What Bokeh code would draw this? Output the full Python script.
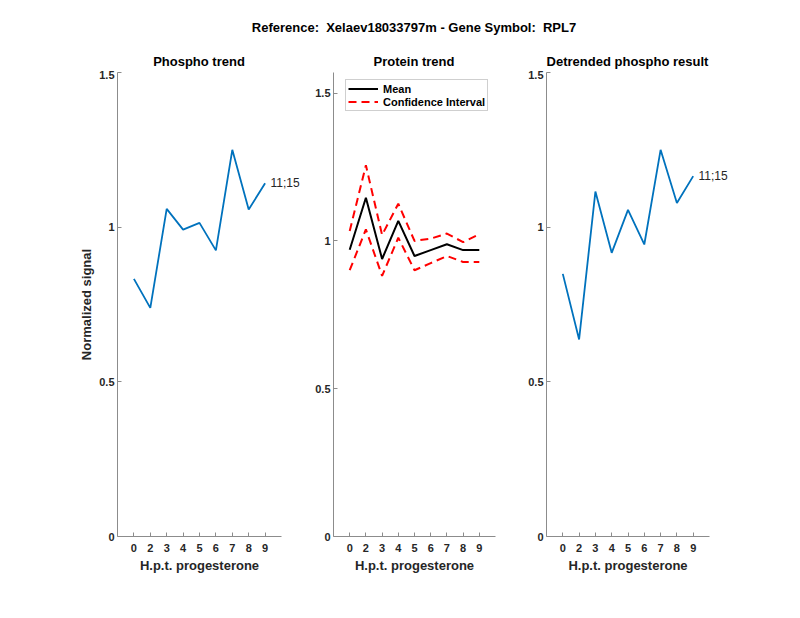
from bokeh.plotting import figure
from bokeh.models import Range1d, FixedTicker, Legend, LegendItem, LinearAxis, Div
from bokeh.layouts import row, column
from bokeh.embed import file_html
from bokeh.resources import INLINE

# ---- data ----
hours = ["0", "2", "3", "4", "5", "6", "7", "8", "9"]
phospho = [0.833, 0.739, 1.059, 0.992, 1.014, 0.925, 1.250, 1.057, 1.142]
protein_mean = [0.970, 1.146, 0.939, 1.068, 0.949, 0.969, 0.989, 0.969, 0.969]
protein_upper = [1.034, 1.256, 1.020, 1.126, 1.000, 1.008, 1.025, 0.996, 1.023]
protein_lower = [0.901, 1.039, 0.882, 1.011, 0.901, 0.925, 0.949, 0.929, 0.929]
detrended = [0.849, 0.637, 1.115, 0.917, 1.056, 0.944, 1.250, 1.078, 1.165]
peptide_label = "11;15"
suptitle = "Reference:  Xelaev18033797m - Gene Symbol:  RPL7"
titles = ["Phospho trend", "Protein trend", "Detrended phospho result"]
xlabel = "H.p.t. progesterone"
ylabel = "Normalized signal"
yticks = [0.0, 0.5, 1.0, 1.5]
ytick_labels = ["0", "0.5", "1", "1.5"]

xpos = list(range(1, len(hours) + 1))
FONT = "Liberation Sans"
AX = "#8c8c8c"
TXT = "#262626"

HEAD = 70          # height of the heading strip (titles)
TOP = 2            # border above each frame
FRAME_H = 464
BOTTOM = 76

# (figure width, left border, right border)
specs = [(305, 117, 24), (217, 28, 27), (273, 24, 86)]


def make_fig(width, left, right, ymax):
    p = figure(width=width, height=TOP + FRAME_H + BOTTOM,
               x_range=Range1d(0, len(hours) + 1), y_range=Range1d(0, ymax),
               output_backend="svg", toolbar_location=None,
               min_border_left=left, min_border_right=right,
               min_border_top=TOP, min_border_bottom=BOTTOM)
    p.grid.visible = False
    p.outline_line_color = None
    p.background_fill_color = "white"
    p.border_fill_color = "white"
    for ax in (p.xaxis[0], p.yaxis[0]):
        ax.axis_line_color = AX
        ax.major_tick_line_color = AX
        ax.major_tick_in = 4
        ax.major_tick_out = 0
        ax.minor_tick_line_color = None
        ax.major_label_text_font = FONT
        ax.major_label_text_font_size = "11px"
        ax.major_label_text_font_style = "bold"
        ax.major_label_text_color = TXT
        ax.axis_label_text_font = FONT
        ax.axis_label_text_font_size = "13px"
        ax.axis_label_text_font_style = "bold"
        ax.axis_label_text_color = TXT
    xa = p.xaxis[0]
    xa.ticker = FixedTicker(ticks=xpos)
    xa.major_label_overrides = {x: h for x, h in zip(xpos, hours)}
    xa.major_label_standoff = 7
    xa.axis_label = xlabel
    xa.axis_label_standoff = 3
    ya = p.yaxis[0]
    ya.ticker = FixedTicker(ticks=yticks)
    ya.major_label_overrides = {t: s for t, s in zip(yticks, ytick_labels)}
    ya.major_label_standoff = 3
    return p


def end_label(p, yval):
    # text next to the last point, drawn as a tick label of an invisible right axis
    ax = LinearAxis(ticker=FixedTicker(ticks=[yval]),
                    major_label_overrides={yval: peptide_label})
    ax.axis_line_color = None
    ax.major_tick_line_color = None
    ax.minor_tick_line_color = None
    ax.major_tick_out = 0
    ax.major_tick_in = 0
    ax.major_label_standoff = -11
    ax.major_label_text_font = FONT
    ax.major_label_text_font_size = "12px"
    ax.major_label_text_font_style = "normal"
    ax.major_label_text_color = TXT
    p.add_layout(ax, "right")


# left panel
p1 = make_fig(*specs[0], 1.5)
p1.yaxis[0].axis_label = ylabel
p1.yaxis[0].axis_label_standoff = 2
p1.line(xpos, phospho, line_color="#0072BD", line_width=1.8)
end_label(p1, phospho[-1])

# middle panel
p2 = make_fig(*specs[1], max(protein_upper) * 1.25)
r_mean = p2.line(xpos, protein_mean, line_color="black", line_width=2)
r_up = p2.line(xpos, protein_upper, line_color="#FF0000", line_width=2, line_dash="8 5")
p2.line(xpos, protein_lower, line_color="#FF0000", line_width=2, line_dash="8 5")
leg = Legend(items=[LegendItem(label="Mean", renderers=[r_mean]),
                    LegendItem(label="Confidence Interval", renderers=[r_up])],
             location=(12, 425))
leg.margin = 0
leg.padding = 2
leg.spacing = 0
leg.glyph_width = 30
leg.glyph_height = 13
leg.label_height = 13
leg.label_standoff = 5
leg.label_text_font = FONT
leg.label_text_font_size = "11px"
leg.label_text_font_style = "bold"
leg.label_text_color = "#000000"
leg.border_line_color = "#a0a0a0"
leg.border_line_width = 1
leg.background_fill_color = "white"
leg.background_fill_alpha = 1
p2.add_layout(leg, "center")

# right panel
p3 = make_fig(*specs[2], 1.5)
p3.line(xpos, detrended, line_color="#0072BD", line_width=1.8)
end_label(p3, detrended[-1])

# heading strip: overall title and the three panel titles, centred over each frame
total_w = sum(s[0] for s in specs)
parts = []
x0 = 0
for (w, l, r), t in zip(specs, titles):
    fw = w - l - r
    parts.append(
        f'<div style="position:absolute;left:{x0 + l}px;width:{fw}px;top:54px;'
        f'text-align:center;white-space:nowrap;line-height:16px;">{t}</div>')
    x0 += w
f2_center = specs[0][0] + specs[1][1] + (specs[1][0] - specs[1][1] - specs[1][2]) / 2
parts.insert(0,
    f'<div style="position:absolute;left:{f2_center - 300:.0f}px;width:600px;top:20px;'
    f'text-align:center;white-space:pre;line-height:16px;">{suptitle}</div>')
html = (f'<div style="position:relative;width:{total_w}px;height:{HEAD}px;'
        f'font-family:\'{FONT}\';font-size:13px;font-weight:bold;color:#000;">'
        + "".join(parts) + '</div>')
head = Div(text=html, width=total_w, height=HEAD, margin=(0, 0, 0, 0))

layout = column(head, row(p1, p2, p3))
open("out.html", "w").write(file_html(layout, INLINE))
